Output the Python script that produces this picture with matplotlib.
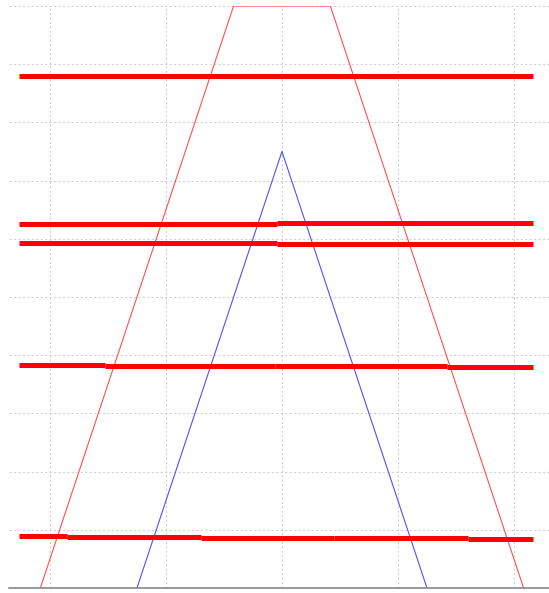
import matplotlib
matplotlib.use("Agg")
import matplotlib.pyplot as plt

# membership shapes
tri_x = [-1.25, 0.0, 1.25]
tri_y = [0.0, 7.5, 0.0]
trap_x = [-2.083, -0.417, 0.417, 2.083]
trap_y = [0.0, 10.0, 10.0, 0.0]

# thick stepped levels: segment breakpoints and one value per segment
lvl1_x = [-2.263, 2.164]
lvl1_y = [8.80]
lvl2_x = [-2.263, -0.043, 2.164]
lvl2_y = [6.25, 6.27]
lvl3_x = [-2.263, -0.043, 2.164]
lvl3_y = [5.925, 5.905]
lvl4_x = [-2.263, -1.529, -0.060, 1.427, 2.164]
lvl4_y = [3.835, 3.822, 3.808, 3.792]
lvl5_x = [-2.263, -1.850, -0.698, 0.448, 1.603, 2.164]
lvl5_y = [0.895, 0.880, 0.866, 0.853, 0.838]

x_ticks = [-2, -1, 0, 1, 2]
y_ticks = list(range(0, 11))

fig = plt.figure(figsize=(5.49, 5.93), dpi=100)
ax = fig.add_axes([9 / 549, 5 / 593, 1 - 9 / 549, 582 / 593])

ax.plot(trap_x, trap_y, color="#ff5050", lw=0.8)
ax.plot(tri_x, tri_y, color="#5050ff", lw=0.8)

# one line per segment so the small steps show
for xs, ys in [(lvl1_x, lvl1_y), (lvl2_x, lvl2_y), (lvl3_x, lvl3_y),
               (lvl4_x, lvl4_y), (lvl5_x, lvl5_y)]:
    for i, y in enumerate(ys):
        ax.plot([xs[i], xs[i + 1]], [y, y], color="red", lw=3.6,
                solid_capstyle="butt")

ax.set_xlim(-2.353, 2.302)
ax.set_ylim(0, 10)
ax.set_xticks(x_ticks)
ax.set_yticks(y_ticks)
ax.grid(True, color="#d2d2d2", linestyle=(0, (2, 2)), lw=0.8)
ax.tick_params(length=0, labelbottom=False, labelleft=False)
for s in ["top", "right", "left"]:
    ax.spines[s].set_visible(False)
ax.spines["bottom"].set_color("#888888")
ax.spines["bottom"].set_linewidth(1.2)

fig.savefig("out.png", dpi=100)
